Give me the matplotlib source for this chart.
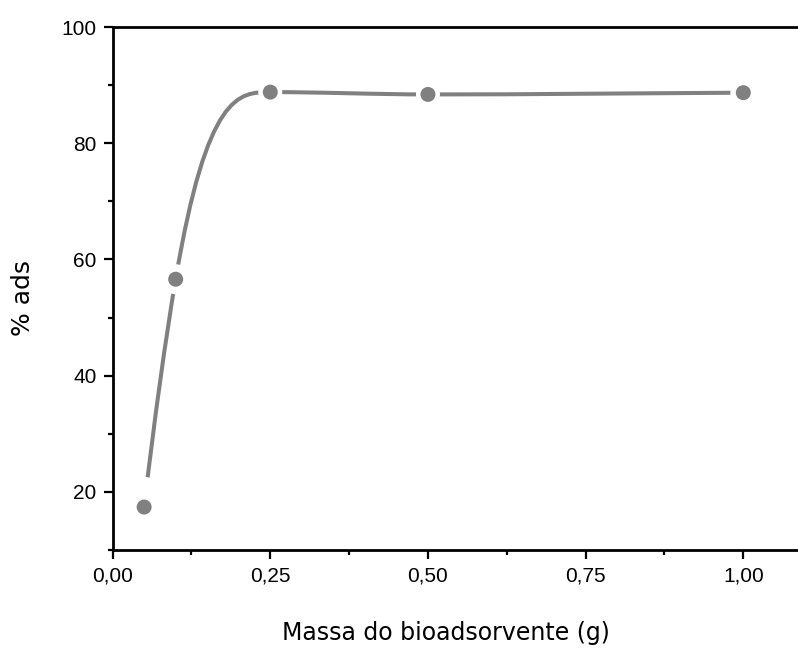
import numpy as np
import matplotlib
matplotlib.use('Agg')
import matplotlib.pyplot as plt
from matplotlib.path import Path
from matplotlib.patches import PathPatch
from matplotlib.ticker import MultipleLocator, FuncFormatter

# adsorption vs. biosorbent mass
massa = np.array([0.05, 0.10, 0.25, 0.50, 1.00])
ads = np.array([17.4, 56.6, 88.8, 88.4, 88.7])

x_ticks = [0.0, 0.25, 0.50, 0.75, 1.00]
y_ticks = [20, 40, 60, 80, 100]

cor = '#808080'


def tangentes(x, y):
    # three-point slopes, flattened where the data turns
    h = np.diff(x)
    s = np.diff(y) / h
    m = np.zeros_like(y)
    for k in range(1, len(x) - 1):
        if s[k - 1] * s[k] <= 0:
            m[k] = 0.0
        else:
            m[k] = (h[k] * s[k - 1] + h[k - 1] * s[k]) / (h[k - 1] + h[k])
    m[0] = ((2 * h[0] + h[1]) * s[0] - h[0] * s[1]) / (h[0] + h[1])
    m[-1] = s[-1]
    return m


def curva_suave(x, y):
    m = tangentes(x, y)
    verts = [(x[0], y[0])]
    codes = [Path.MOVETO]
    for k in range(len(x) - 1):
        h = x[k + 1] - x[k]
        verts += [(x[k] + h / 3, y[k] + m[k] * h / 3),
                  (x[k + 1] - h / 3, y[k + 1] - m[k + 1] * h / 3),
                  (x[k + 1], y[k + 1])]
        codes += [Path.CURVE4] * 3
    return Path(verts, codes)


fig = plt.figure(figsize=(7.98, 6.51), dpi=100)
ax = fig.add_axes([0.1411, 0.1551, 0.8694, 0.8034])

ax.add_patch(PathPatch(curva_suave(massa, ads), fill=False, edgecolor=cor,
                       lw=2.9, capstyle='butt', zorder=2.1))

# white gaps around the symbols, then the symbols
gap_px = np.array([60, 30, 24, 24, 26])
ax.scatter(massa, ads, s=(gap_px * 0.72) ** 2, c='white', edgecolors='none',
           zorder=2.2, clip_on=False)
ax.scatter(massa, ads, s=(15 * 0.72) ** 2, c=cor, edgecolors='none', zorder=3)

ax.set_xlim(0, 1.1)
ax.set_ylim(10, 100)

for lado in ['left', 'bottom', 'top']:
    ax.spines[lado].set_linewidth(2.0)
ax.spines['right'].set_visible(False)

ax.set_xticks(x_ticks)
ax.set_yticks(y_ticks)
ax.xaxis.set_minor_locator(MultipleLocator(0.125))
ax.yaxis.set_minor_locator(MultipleLocator(10))
ax.xaxis.set_major_formatter(FuncFormatter(lambda v, p: f'{v:.2f}'.replace('.', ',')))
ax.tick_params(which='major', direction='out', length=6.5, width=1.6,
               labelsize=15, top=False, right=False)
ax.tick_params(which='minor', direction='out', length=3.6, width=1.6,
               top=False, right=False)
ax.tick_params(axis='x', which='major', pad=5.5)
ax.tick_params(axis='y', which='major', pad=5)
for lab in ax.get_xticklabels() + ax.get_yticklabels():
    lab.set_fontfamily('Liberation Sans')

ax.set_xlabel('Massa do bioadsorvente (g)', fontsize=17, family='DejaVu Sans')
ax.set_ylabel('% ads', fontsize=18, family='DejaVu Sans')
ax.xaxis.set_label_coords(0.481, -0.135)
ax.yaxis.set_label_coords(-0.112, 0.482)

fig.savefig('out.png', dpi=100)
